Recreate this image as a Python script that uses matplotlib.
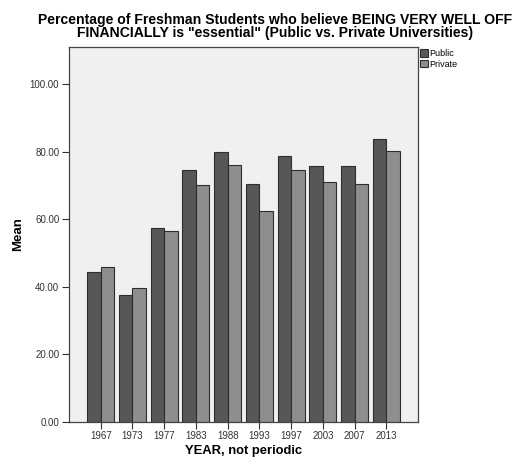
import matplotlib
matplotlib.use("Agg")
import matplotlib.pyplot as plt
import numpy as np

years = ["1967", "1973", "1977", "1983", "1988", "1993", "1997", "2003", "2007", "2013"]
public = [44.4, 37.5, 57.5, 74.7, 79.9, 70.5, 78.6, 75.8, 75.8, 83.7]
private = [45.8, 39.7, 56.6, 70.2, 76.0, 62.5, 74.6, 71.0, 70.3, 80.3]
yticks = [0, 20, 40, 60, 80, 100]

plt.rcParams['font.family'] = ['Liberation Sans', 'DejaVu Sans']

fig = plt.figure(figsize=(5.22, 4.62), dpi=100)
ax = fig.add_axes([69/522, 1-421.7/462, (418-69)/522, (421.7-47)/462])
ax.set_facecolor('#f0f0f0')

x = np.arange(len(years))
w = 0.425
ax.bar(x - w/2, public, width=w, color='#575757', edgecolor='#2e2e2e', linewidth=0.8, label='Public')
ax.bar(x + w/2, private, width=w, color='#8e8e8e', edgecolor='#2e2e2e', linewidth=0.8, label='Private')

ax.set_xlim(-1, 10)
ax.set_ylim(0, 111)
ax.set_xticks(x)
ax.set_xticklabels(years, fontsize=7, color='#333333')
ax.set_yticks(yticks)
ax.set_yticklabels([f"{v:.2f}" for v in yticks], fontsize=7, color='#333333')
ax.tick_params(axis='both', direction='out', length=5, width=0.8, color='#333333', pad=2)
for s in ax.spines.values():
    s.set_color('#444444')
    s.set_linewidth(0.9)

ax.set_ylabel('Mean', fontsize=9.5, fontweight='bold')
ax.yaxis.set_label_coords((24-69)/349, 0.5)
ax.set_xlabel('YEAR, not periodic', fontsize=9.4, fontweight='bold')
ax.xaxis.set_label_coords(0.5, -(445-421.7)/374.7)

fig.text(275/522, 1-13/462, 'Percentage of Freshman Students who believe BEING VERY WELL OFF\nFINANCIALLY is "essential" (Public vs. Private Universities)',
         ha='center', va='top', fontsize=10.1, fontweight='bold', linespacing=0.95)

leg = fig.legend(loc='upper left', bbox_to_anchor=(418/522, 1-47.5/462), frameon=False,
                 fontsize=6.5, handlelength=0.9, handleheight=0.9, handletextpad=0.2,
                 labelspacing=0.15, borderpad=0.2, borderaxespad=0)

fig.savefig('out.png', dpi=100)
